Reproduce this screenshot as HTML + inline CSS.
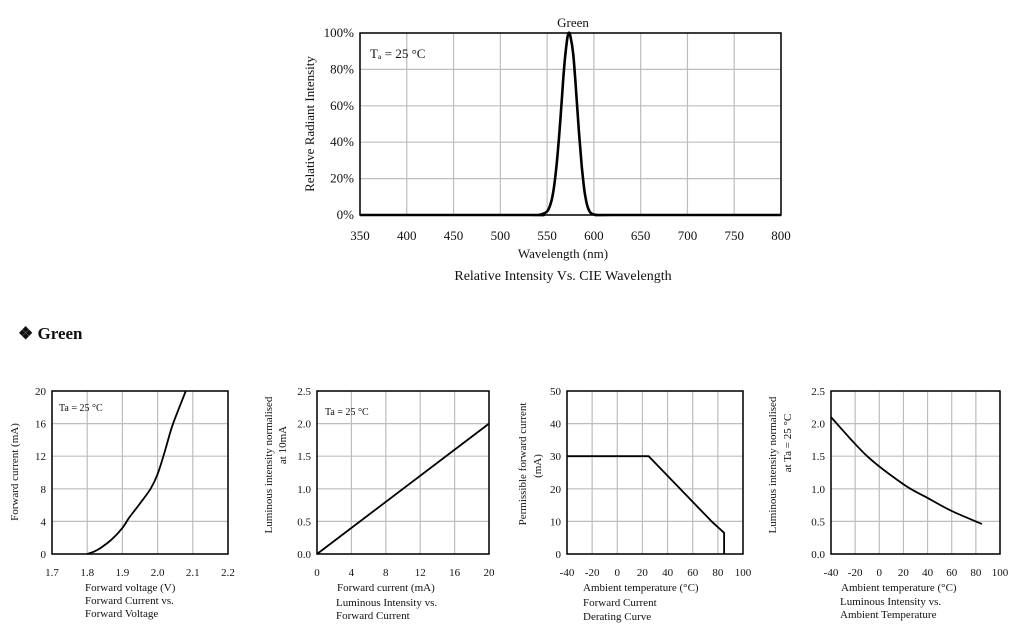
<!DOCTYPE html>
<html><head><meta charset="utf-8"><style>
body{margin:0;background:#fff;width:1017px;height:631px;overflow:hidden;font-family:"Liberation Serif",serif;}
svg text{font-family:"Liberation Serif",serif;fill:#111;}
</style></head><body>
<svg id="s" width="1017" height="631" xmlns="http://www.w3.org/2000/svg">
<text x="18" y="339" font-size="17" font-weight="bold">❖ Green</text>
</svg>
<script>
// Spectrum chart data
const specX = [350,530,540,545,550,553,556,559,562,565,568,571,573,575,578,581,584,587,590,593,596,600,605,620,800];
const specY = [0,0,0,0.5,2,5,11,22,38,58,80,95,100,98,88,68,46,27,13,5,1.5,0.3,0,0,0];
const specXTicks = [350,400,450,500,550,600,650,700,750,800];
const specYTicks = [0,20,40,60,80,100];
// IV curve
const ivX = [1.8,1.82,1.84,1.87,1.9,1.92,1.95,1.98,2.0,2.02,2.04,2.06,2.08];
const ivY = [0,0.3,0.8,1.8,3.2,4.5,6.2,8,9.8,12.5,15.5,17.8,20];
const ivXTicks = [1.7,1.8,1.9,2.0,2.1,2.2];
const ivYTicks = [0,4,8,12,16,20];
// Luminous vs current
const licX = [0,20];
const licY = [0,2.0];
const licXTicks = [0,4,8,12,16,20];
const licYTicks = [0,0.5,1.0,1.5,2.0,2.5];
// Derating
const derX = [-40,25,75,85,85];
const derY = [30,30,10,6.5,0];
const derXTicks = [-40,-20,0,20,40,60,80,100];
const derYTicks = [0,10,20,30,40,50];
// Luminous vs temperature
const ltX = [-40,-10,20,40,60,85];
const ltY = [2.1,1.5,1.07,0.86,0.66,0.46];
const ltXTicks = [-40,-20,0,20,40,60,80,100];
const ltYTicks = [0,0.5,1.0,1.5,2.0,2.5];

const svg=document.getElementById('s');
const NS='http://www.w3.org/2000/svg';
function mk(tag,attrs,parent){const e=document.createElementNS(NS,tag);for(const k in attrs)e.setAttribute(k,attrs[k]);(parent||svg).appendChild(e);return e;}
function txt(x,y,s,size,anchor,parent,rot){const t=mk('text',{x:x,y:y,'font-size':size,'text-anchor':anchor||'middle'},parent);if(rot)t.setAttribute('transform','rotate(-90 '+x+' '+y+')');t.textContent=s;return t;}

function chart(o){
  const g=mk('g',{});
  
  
  const xmin=o.xt[0],xmax=o.xt[o.xt.length-1],ymin=o.yt[0],ymax=o.yt[o.yt.length-1];
  const sx=v=>o.l+(v-xmin)/(xmax-xmin)*(o.r-o.l);
  const sy=v=>o.b-(v-ymin)/(ymax-ymin)*(o.b-o.t);
  o.xt.forEach(v=>{const ln=mk('line',{x1:sx(v),x2:sx(v),y1:o.t,y2:o.b,stroke:'#bdbdbd','stroke-width':1.2},g);
    
    const t=txt(sx(v),o.b+o.xoff,o.xf?o.xf(v):String(v),o.fs,'middle',g);
    });
  o.yt.forEach(v=>{const ln=mk('line',{x1:o.l,x2:o.r,y1:sy(v),y2:sy(v),stroke:'#bdbdbd','stroke-width':1.2},g);
    
    const t=txt(o.l-6,sy(v)+4,o.yf?o.yf(v):String(v),o.fs,'end',g);
    });
  const fr=mk('rect',{x:o.l,y:o.t,width:o.r-o.l,height:o.b-o.t,fill:'none',stroke:'#000','stroke-width':1.5},g);
  
  const P=o.xs.map((x,i)=>[sx(x),sy(o.ys[i])]);
  let d='M'+P[0][0].toFixed(1)+','+P[0][1].toFixed(1);
  for(let i=0;i<P.length-1;i++){
    if(o.smooth){
      const p0=P[Math.max(i-1,0)],p1=P[i],p2=P[i+1],p3=P[Math.min(i+2,P.length-1)];
      const c1=[p1[0]+(p2[0]-p0[0])/6,p1[1]+(p2[1]-p0[1])/6];
      const c2=[p2[0]-(p3[0]-p1[0])/6,p2[1]-(p3[1]-p1[1])/6];
      d+='C'+c1[0].toFixed(1)+','+c1[1].toFixed(1)+' '+c2[0].toFixed(1)+','+c2[1].toFixed(1)+' '+p2[0].toFixed(1)+','+p2[1].toFixed(1);
    } else d+='L'+P[i+1][0].toFixed(1)+','+P[i+1][1].toFixed(1);
  }
  const p=mk('path',{d:d,fill:'none',stroke:'#000','stroke-width':o.sw||1.8,'stroke-linejoin':'round'},g);
  
  return g;
}

const g0=chart({name:'spectrum-chart',l:360,r:781,t:33,b:215,xt:specXTicks,yt:specYTicks,xs:specX,ys:specY,fs:13,xoff:25,yf:v=>v+'%',sw:2.6,smooth:true});
let t;
t=txt(573,27,'Green',13,'middle',g0);
t=txt(370,58,'Tₐ = 25 °C',13,'start',g0);
t=txt(563,258,'Wavelength (nm)',13,'middle',g0);
t=txt(314,124,'Relative Radiant Intensity',13,'middle',g0,true);
t=txt(563,280,'Relative Intensity Vs. CIE Wavelength',14,'middle',g0);

const g1=chart({name:'iv-chart',l:52,r:228,t:391,b:554,xt:ivXTicks,yt:ivYTicks,xs:ivX,ys:ivY,fs:11,xoff:22,xf:v=>v.toFixed(1),smooth:true});
t=txt(59,411,'Ta = 25 °C',10,'start',g1);
t=txt(85,591,'Forward voltage (V)',11,'start',g1);
t=txt(85,604,'Forward Current vs.',11,'start',g1);
t=txt(85,617,'Forward Voltage',11,'start',g1);
t=txt(18,472,'Forward current (mA)',11,'middle',g1,true);

const g2=chart({name:'intensity-vs-current-chart',l:317,r:489,t:391,b:554,xt:licXTicks,yt:licYTicks,xs:licX,ys:licY,fs:11,xoff:22,yf:v=>v.toFixed(1)});
t=txt(325,415,'Ta = 25 °C',10,'start',g2);
t=txt(337,591,'Forward current (mA)',11,'start',g2);
t=txt(336,606,'Luminous Intensity vs.',11,'start',g2);
t=txt(336,619,'Forward Current',11,'start',g2);
t=txt(272,465,'Luminous intensity normalised',11,'middle',g2,true);
t=txt(286,445,'at 10mA',11,'middle',g2,true);

const g3=chart({name:'derating-chart',l:567,r:743,t:391,b:554,xt:derXTicks,yt:derYTicks,xs:derX,ys:derY,fs:11,xoff:22});
t=txt(583,591,'Ambient temperature (°C)',11,'start',g3);
t=txt(583,606,'Forward Current',11,'start',g3);
t=txt(583,620,'Derating  Curve',11,'start',g3);
t=txt(526,464,'Permissible forward current',11,'middle',g3,true);
t=txt(541,466,'(mA)',11,'middle',g3,true);

const g4=chart({name:'intensity-vs-temperature-chart',l:831,r:1000,t:391,b:554,xt:ltXTicks,yt:ltYTicks,xs:ltX,ys:ltY,fs:11,xoff:22,yf:v=>v.toFixed(1),smooth:true});
t=txt(841,591,'Ambient temperature (°C)',11,'start',g4);
t=txt(840,605,'Luminous Intensity vs.',11,'start',g4);
t=txt(840,618,'Ambient Temperature',11,'start',g4);
t=txt(776,465,'Luminous intensity normalised',11,'middle',g4,true);
t=txt(791,443,'at Ta = 25 °C',11,'middle',g4,true);
</script>
</body></html>
